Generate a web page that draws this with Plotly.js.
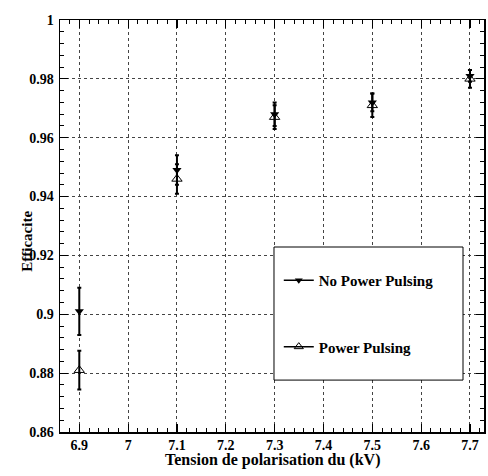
<!DOCTYPE html>
<html>
<head>
<meta charset="utf-8">
<script src="https://cdn.plot.ly/plotly-3.0.1.min.js"></script>
<style>html,body{margin:0;padding:0;background:#fff;}#plot{width:488px;height:476px;}</style>
</head>
<body>
<div id="plot"></div>
<script>
// Data
const voltages = [6.9, 7.1, 7.3, 7.5, 7.7];
const noPPEff = [0.901, 0.949, 0.968, 0.972, 0.981];
const noPPErr = [0.008, 0.005, 0.004, 0.003, 0.002];
const ppEff = [0.881, 0.946, 0.967, 0.971, 0.980];
const ppErr = [0.0066, 0.005, 0.004, 0.004, 0.003];
const seriesNames = ["No Power Pulsing", "Power Pulsing"];
const xTickVals = [6.9, 7.0, 7.1, 7.2, 7.3, 7.4, 7.5, 7.6, 7.7];
const xTickText = ["6.9", "7", "7.1", "7.2", "7.3", "7.4", "7.5", "7.6", "7.7"];
const yTickVals = [0.86, 0.88, 0.90, 0.92, 0.94, 0.96, 0.98, 1.0];
const yTickText = ["0.86", "0.88", "0.9", "0.92", "0.94", "0.96", "0.98", "1"];
const xTitle = "Tension de polarisation du (kV)";
const yTitle = "Efficacite";

const font = "Liberation Serif, Times New Roman, serif";
const bold = s => "<b>" + s + "</b>";

const traces = [
  {
    x: voltages, y: noPPEff, type: "scatter", mode: "markers", showlegend: false,
    marker: {symbol: "triangle-down", size: 8, color: "#000"},
    error_y: {type: "data", array: noPPErr, visible: true, color: "#000", thickness: 2, width: 2}
  },
  {
    x: voltages, y: ppEff, type: "scatter", mode: "markers", showlegend: false,
    marker: {symbol: "triangle-up-open", size: 9, color: "#000", line: {width: 1, color: "#000"}},
    error_y: {type: "data", array: ppErr, visible: true, color: "#000", thickness: 2, width: 2}
  },
  {
    x: [null], y: [null], type: "scatter", mode: "lines+markers", name: bold(seriesNames[0]),
    legendgroup: "a",
    line: {color: "#000", width: 1.5},
    marker: {symbol: "triangle-down", size: 7, color: "#000"}
  },
  {
    x: [null], y: [null], type: "scatter", mode: "lines+markers", name: bold(seriesNames[1]),
    legendgroup: "b",
    line: {color: "#000", width: 1.5},
    marker: {symbol: "triangle-up-open", size: 8, color: "#000", line: {width: 1, color: "#000"}}
  }
];

function axisCommon() {
  return {
    showline: true, linecolor: "#000", linewidth: 1.5, mirror: "allticks",
    ticks: "inside", ticklen: 8, tickwidth: 1.2, tickcolor: "#000",
    showgrid: true, gridcolor: "#444", griddash: "dot", gridwidth: 1,
    zeroline: false, automargin: false, tickmode: "array",
    tickfont: {family: font, size: 14, color: "#000"}
  };
}

const layout = {
  width: 488, height: 476,
  margin: {l: 60, r: 4, t: 20, b: 44},
  paper_bgcolor: "#fff", plot_bgcolor: "#fff",
  font: {family: font, color: "#000"},
  xaxis: Object.assign(axisCommon(), {
    range: [6.8605, 7.7287], tickvals: xTickVals, ticktext: xTickText.map(bold),
    minor: {ticks: "inside", ticklen: 4, tickwidth: 1, dtick: 0.02, tick0: 6.9, tickcolor: "#000", showgrid: false}
  }),
  yaxis: Object.assign(axisCommon(), {
    range: [0.86, 1.0], tickvals: yTickVals, ticktext: yTickText.map(bold), ticklabelstandoff: 2,
    minor: {ticks: "inside", ticklen: 4, tickwidth: 1, dtick: 0.004, tick0: 0.86, tickcolor: "#000", showgrid: false}
  }),
  showlegend: true,
  legend: {
    x: 0.516, y: 0.408, xanchor: "left", yanchor: "top",
    bgcolor: "rgba(0,0,0,0)", borderwidth: 0,
    traceorder: "grouped", tracegroupgap: 44,
    font: {family: font, size: 15, color: "#000"}
  },
  shapes: [
    {type: "rect", xref: "paper", yref: "paper", x0: 0.5047, x1: 0.9505, y0: 0.126, y1: 0.449,
     line: {color: "#000", width: 1}, fillcolor: "#fff", layer: "above"}
  ],
  annotations: [
    {text: bold(yTitle), xref: "paper", yref: "paper", x: -0.078, y: 0.464,
     xanchor: "center", yanchor: "middle", textangle: -90, showarrow: false,
     font: {family: font, size: 15, color: "#000"}},
    {text: bold(xTitle), xref: "paper", yref: "paper", x: 0.5, y: -0.068,
     xanchor: "center", yanchor: "middle", showarrow: false,
     font: {family: font, size: 16, color: "#000"}}
  ]
};

Plotly.newPlot("plot", traces, layout, {displayModeBar: false, staticPlot: true});
</script>
</body>
</html>
